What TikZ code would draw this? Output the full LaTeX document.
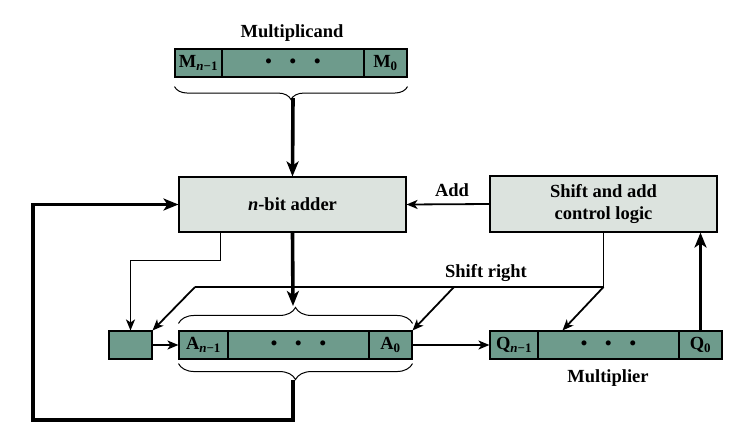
\documentclass[tikz,border=0pt]{standalone}
\usepackage{fontspec}
\setmainfont{Liberation Serif}
\usetikzlibrary{arrows.meta,decorations.pathreplacing}
\definecolor{regc}{RGB}{110,155,140}
\definecolor{boxc}{RGB}{220,227,222}
\newcommand{\regdots}{\textbullet\hspace{18pt}\textbullet\hspace{18pt}\textbullet}
\tikzset{
  >={Stealth[length=11pt,width=9pt,inset=3pt]},
  cell/.style={draw,fill=regc,minimum height=28pt,inner sep=0pt,line width=1.1pt},
  unit/.style={draw,fill=boxc,align=center,inner sep=0pt,line width=1.1pt},
  ln/.style={line width=1.8pt},
  fat/.style={line width=3.6pt,-{Stealth[length=15pt,width=12pt,inset=4pt]}},
  br/.style={decorate,decoration={brace,amplitude=#1},line width=1pt},
  br/.default=14pt,
  every node/.style={font=\fontsize{18.5}{22}\selectfont\bfseries},
}
\begin{document}
\begin{tikzpicture}[x=1pt,y=-1pt]
\useasboundingbox (0,0) rectangle (739,437);
\node (mcl) at (292,33) {Multiplicand};
\node[cell,minimum width=47pt] (Mhi) at (198.5,63) {M\textsubscript{\textit{n}−1}};
\node[cell,minimum width=142pt] (Mmid) at (293,63) {\regdots};
\node[cell,minimum width=43pt] (Mlo) at (385.5,63) {M\textsubscript{0}};
\node[unit,minimum width=227pt,minimum height=55pt] (add) at (292.5,204.5) {\textit{n}-bit adder};
\node[unit,minimum width=227pt,minimum height=56pt] (ctl) at (603.5,204) {Shift and add\\control logic};
\node[cell,minimum width=43pt] (sb) at (130.5,345) {};
\node[cell,minimum width=49pt] (Ahi) at (203.5,345) {A\textsubscript{\textit{n}−1}};
\node[cell,minimum width=141pt] (Amid) at (298.5,345) {\regdots};
\node[cell,minimum width=43pt] (Alo) at (390.5,345) {A\textsubscript{0}};
\node[cell,minimum width=48pt] (Qhi) at (514,345) {Q\textsubscript{\textit{n}−1}};
\node[cell,minimum width=141pt] (Qmid) at (608.5,345) {\regdots};
\node[cell,minimum width=43pt] (Qlo) at (700.5,345) {Q\textsubscript{0}};
\node (mpl) at (608,378) {Multiplier};
\node (addl) at (452,190) {Add};
\node (srl) at (486,273) {Shift right};
\coordinate (tipM) at (293,98); \coordinate (tipAt) at (293,306); \coordinate (tipAb) at (293,380);
\coordinate (sr) at (ctl.south |- 0,287);
\draw[br=13pt] ([yshift=-9pt]Mlo.south east) -- ([yshift=-9pt]Mhi.south west);
\draw[br=16pt] ([yshift=7pt]Ahi.north west) -- ([yshift=7pt]Alo.north east);
\draw[br=16pt] ([yshift=-4pt]Alo.south east) -- ([yshift=-4pt]Ahi.south west);
\draw[fat] (tipM) -- (add.north);
\draw[fat] (add.south) -- (tipAt);
\draw[fat] (tipAb) |- (33,420) |- (add.west);
\draw[fat] (Qlo.north) -- (Qlo.north |- ctl.south);
\draw[ln,->] (ctl.west) -- (add.east);
\draw[ln,->] ([xshift=-72pt]add.south) -- ++(0,28) -| (sb.north);
\draw[ln] (ctl.south) -- (sr) -- (195,287);
\draw[ln,->] (195,287) -- (sb.north east);
\draw[ln,->] (454,287) -- (Alo.north east);
\draw[ln,->] (sr) -- ([xshift=-46pt]Qmid.north);
\draw[ln,->] (sb.east) -- (Ahi.west);
\draw[ln,->] (Alo.east) -- (Qhi.west);
\end{tikzpicture}
\end{document}
